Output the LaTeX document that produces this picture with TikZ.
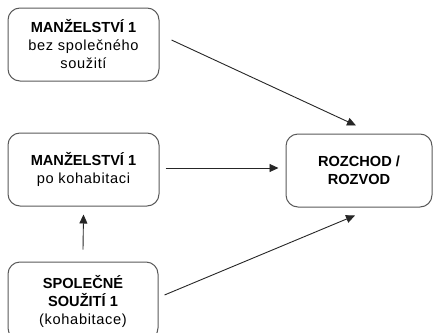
\documentclass[tikz,border=0pt]{standalone}
\usepackage{fontspec}
\setmainfont{Liberation Sans}[LetterSpace=4.5,BoldFeatures={LetterSpace=0}]
\usetikzlibrary{arrows.meta}

\tikzset{
    stagebox/.style={draw=black!65,line width=1pt,rounded corners=12pt,
        minimum width=151pt,minimum height=73pt,align=center,
        font=\fontsize{14.6}{18}\selectfont,text=black},
    flow/.style={-{Triangle[length=9pt,width=8pt]},line width=.9pt,draw=black!85}
}

\begin{document}
\begin{tikzpicture}[x=1pt,y=-1pt]
        \useasboundingbox (0,0) rectangle (433,332);
        \node[stagebox] (mbez) at (83.5,44.5) {\textbf{MANŽELSTVÍ 1}\\bez společného\\soužití};
        \node[stagebox] (mpo) at (83.5,169.5) {\textbf{MANŽELSTVÍ 1}\\po kohabitaci};
        \node[stagebox,minimum width=150pt,minimum height=78pt] (kohab) at (83,301) {\textbf{SPOLEČNÉ}\\\textbf{SOUŽITÍ 1}\\(kohabitace)};
        \node[stagebox,minimum width=146pt] (rozchod) at (359,170.5) {\textbf{ROZCHOD /}\\\textbf{ROZVOD}};
        %
        \draw[flow] ([xshift=12pt,yshift=4.5pt]mbez.east) -- ([xshift=-3pt,yshift=8pt]rozchod.north);
        \draw[flow] ([xshift=6pt,yshift=1.5pt]mpo.east) -- ([xshift=-7pt,yshift=2.5pt]rozchod.west);
        \draw[flow] ([yshift=12pt]kohab.north) -- ([yshift=-8pt]mpo.south);
        \draw[flow] ([xshift=6pt,yshift=6pt]kohab.east) -- ([xshift=-4pt,yshift=-8pt]rozchod.south);
    \end{tikzpicture}
\end{document}
